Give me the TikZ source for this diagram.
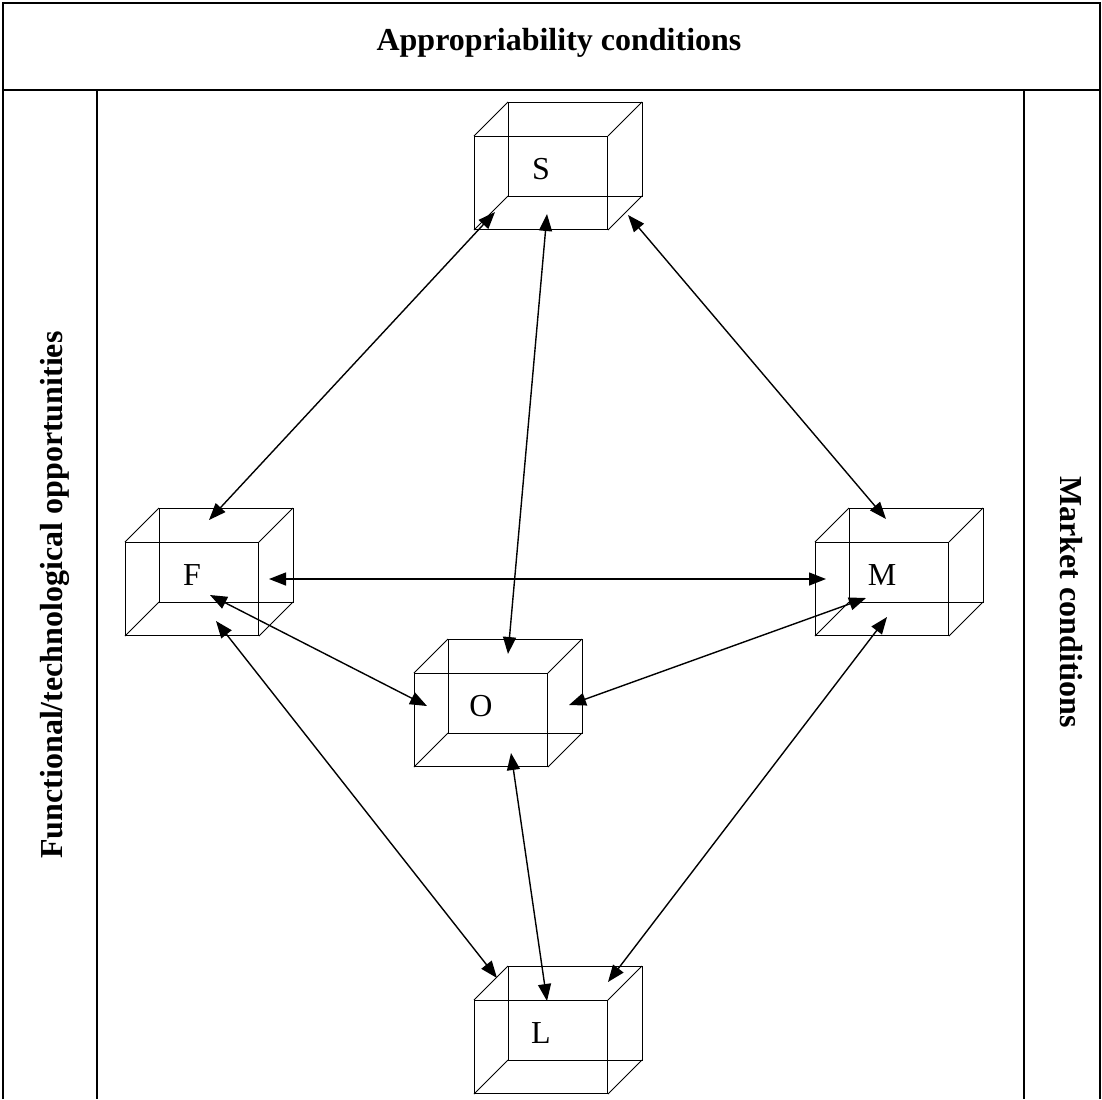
\documentclass[tikz,border=0pt]{standalone}
\usepackage{fontspec}
\setmainfont{Liberation Serif}
\usetikzlibrary{arrows.meta}

\begin{document}
\begin{tikzpicture}[x=0.5pt,y=-0.5pt,
    frame/.style={line width=0.9pt},
    cubeface/.style={draw,line width=0.5pt,minimum width=66.5pt,minimum height=46.5pt,inner sep=0pt},
    cubeedge/.style={line width=0.5pt},
    cubelabel/.style={font=\fontsize{16}{19}\selectfont,yshift=7pt},
    link/.style={line width=0.7pt,{Triangle[length=8.5pt,width=6.5pt]}-{Triangle[length=8.5pt,width=6.5pt]}},
    sidetext/.style={font=\bfseries\fontsize{16}{19}\selectfont,anchor=base}]
    \useasboundingbox (0,0) rectangle (1102,1099);
    % frame and headings
    \draw[frame] (3,1099) -- (3,3) -- (1100,3) -- (1100,1099);
    \draw[frame] (3,90) -- (1100,90);
    \draw[frame] (97,90) -- (97,1099);
    \draw[frame] (1024,90) -- (1024,1099);
    \node[sidetext] (appro) at (559,50) {Appropriability conditions};
    \node[sidetext,rotate=90] (func) at (62,595) {Functional/technological opportunities};
    \node[sidetext,rotate=-90] (market) at (1060,602) {Market conditions};
    % cubes (front faces)
    \node[cubeface,label={[cubelabel]center:S}] (S) at (541,183) {};
    \node[cubeface,label={[cubelabel]center:F}] (F) at (192,589) {};
    \node[cubeface,label={[cubelabel]center:O}] (O) at (481,720) {};
    \node[cubeface,label={[cubelabel]center:L}] (L) at (541,1047) {};
    \node[cubeface,label={[cubelabel]center:M}] (M) at (882,589) {};
    \foreach \c in {S,F,O,L,M}{
      \draw[cubeedge] ([shift={(34,-34)}]\c.north west) rectangle ([shift={(34,-34)}]\c.south east);
      \foreach \a in {north west,north east,south west,south east}
        \draw[cubeedge] (\c.\a) -- ++(34,-34);
    }
    % links
    \draw[link] ([shift={(-46,29)}]S.center) -- ([shift={(17,-69)}]F.center);
    \draw[link] ([shift={(6,31)}]S.center) -- ([shift={(27,-66)}]O.center);
    \draw[link] ([shift={(87,32)}]S.center) -- ([shift={(4,-70)}]M.center);
    \draw[link] ([shift={(77,-10)}]F.center) -- ([shift={(-56,-10)}]M.center);
    \draw[link] ([shift={(18,6)}]F.center) -- ([shift={(-54,-14)}]O.center);
    \draw[link] ([shift={(24,32)}]F.center) -- ([shift={(-44,-69)}]L.center);
    \draw[link] ([shift={(88,-15)}]O.center) -- ([shift={(-16,9)}]M.center);
    \draw[link] ([shift={(30,33)}]O.center) -- ([shift={(6,-46)}]L.center);
    \draw[link] ([shift={(5,28)}]M.center) -- ([shift={(67,-65)}]L.center);
  \end{tikzpicture}
\end{document}
